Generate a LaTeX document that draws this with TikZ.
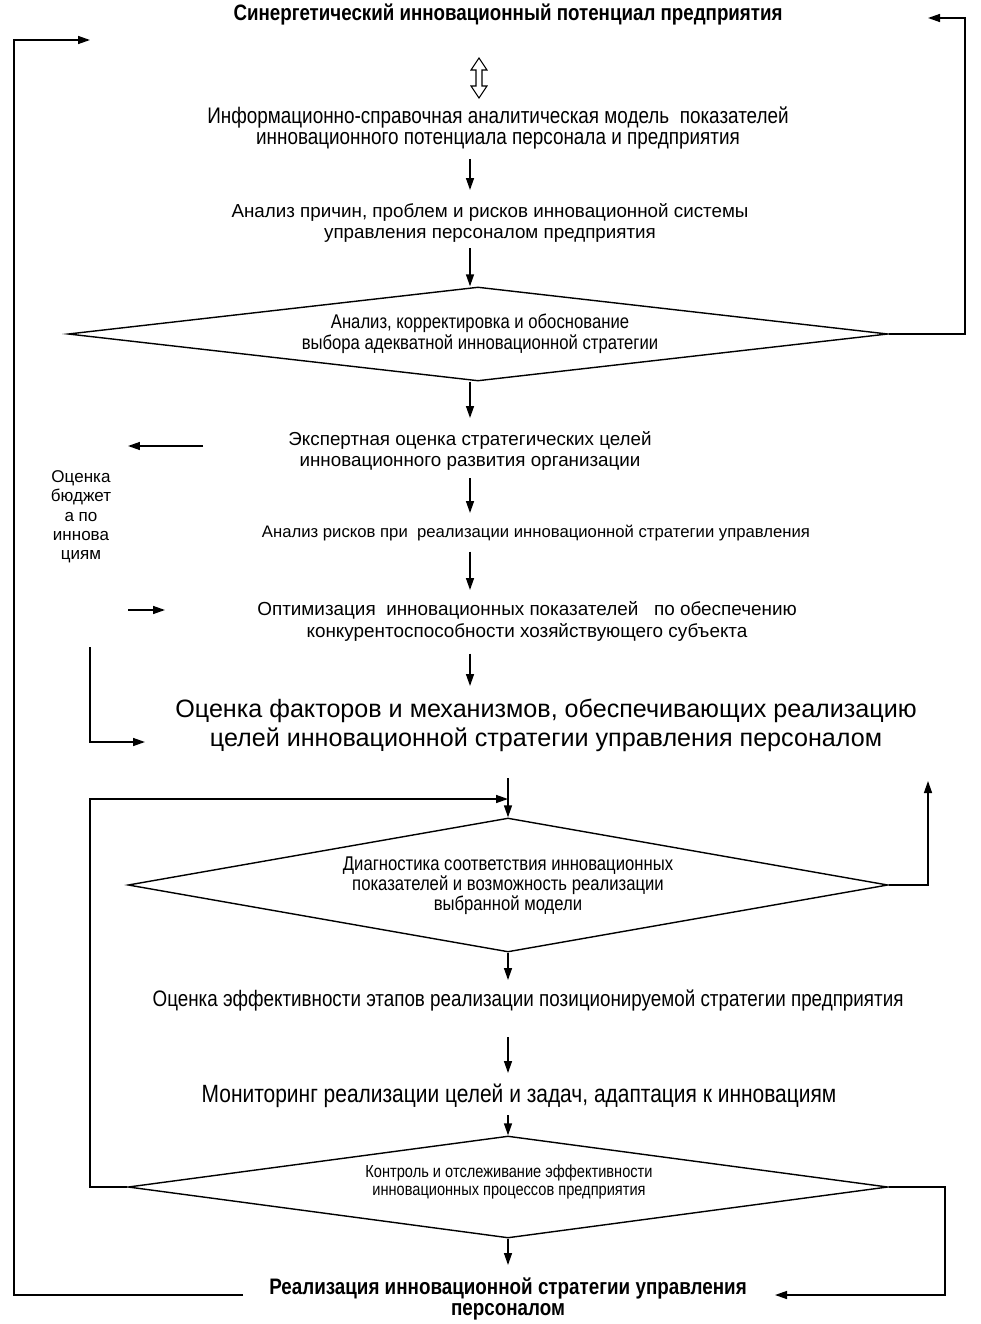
\documentclass[tikz,border=0pt]{standalone}
\usepackage{fontspec}
\setmainfont{Liberation Sans}
\newfontfamily\narrowfont[FakeStretch=0.84]{Liberation Sans}
\usetikzlibrary{arrows.meta,shapes.geometric}

\begin{document}
\begin{tikzpicture}[x=0.02cm,y=-0.02cm,line width=0.8pt,
		arr/.style={-{Triangle[length=2.4mm,width=1.6mm]}},
		txt/.style={align=center,inner sep=0pt},
		romb/.style={draw,diamond,inner sep=0pt,align=center}]
		\useasboundingbox (0,0) rectangle (980,1324);
		\coordinate (ax) at (470,0);
		\coordinate (ay) at (508,0);
		
		\node[txt,font=\narrowfont\bfseries\fontsize{12.7}{12}\selectfont] (potential) at (508,15) {Синергетический инновационный потенциал предприятия};
		\node[txt,font=\narrowfont\fontsize{12.8}{12}\selectfont] (model) at (498,128) {Информационно-справочная аналитическая модель \ показателей\\инновационного потенциала персонала и предприятия};
		\node[txt,font=\fontsize{10.7}{12}\selectfont] (causes) at (490,223) {Анализ причин, проблем и рисков инновационной системы\\управления персоналом предприятия};
		\node[romb,minimum width=16.4cm,minimum height=1.88cm] (choice) at (478,334) {};
		\node[txt,font=\narrowfont\fontsize{11.3}{10.4}\selectfont] (choicetxt) at (480,334) {Анализ, корректировка и обоснование\\выбора адекватной инновационной стратегии};
		\node[txt,font=\fontsize{10.7}{12}\selectfont] (expert) at (470,451) {Экспертная оценка стратегических целей\\инновационного развития организации};
		\node[txt,font=\fontsize{9.5}{11}\selectfont] (risks) at (536,533) {Анализ рисков при \ реализации инновационной стратегии управления};
		\node[txt,font=\fontsize{10.75}{12.5}\selectfont] (optim) at (527,621) {Оптимизация \ инновационных показателей \ \ по обеспечению\\конкурентоспособности хозяйствующего субъекта};
		\node[txt,font=\fontsize{14.3}{16.4}\selectfont] (factors) at (546,725) {Оценка факторов и механизмов, обеспечивающих реализацию\\целей инновационной стратегии управления персоналом};
		\node[txt,font=\fontsize{9.7}{11}\selectfont] (budget) at (81,517) {Оценка\\бюджет\\а по\\иннова\\циям};
		\node[romb,minimum width=15.2cm,minimum height=2.68cm] (diag) at (508,885) {};
		\node[txt,font=\narrowfont\fontsize{11.3}{11.3}\selectfont] (diagtxt) at (508,886) {Диагностика соответствия инновационных\\показателей и возможность реализации\\выбранной модели};
		\node[txt,font=\narrowfont\fontsize{12.75}{12}\selectfont] (stages) at (528,1000) {Оценка эффективности этапов реализации позиционируемой стратегии предприятия};
		\node[txt,font=\narrowfont\fontsize{14.2}{14}\selectfont] (monitor) at (519,1096) {Мониторинг реализации целей и задач, адаптация к инновациям};
		\node[romb,minimum width=15.2cm,minimum height=2.04cm] (control) at (508,1187) {};
		\node[txt,font=\narrowfont\fontsize{9.9}{10.2}\selectfont] (controltxt) at (509,1182) {Контроль и отслеживание эффективности\\инновационных процессов предприятия};
		\node[txt,font=\narrowfont\bfseries\fontsize{12.75}{12}\selectfont] (result) at (508,1299) {Реализация инновационной стратегии управления\\персоналом};
		
		\draw[fill=white,line width=0.6pt] (479,58) -- (487,70) -- (482,70) -- (482,86) -- (487,86) -- (479,98) -- (471,86) -- (476,86) -- (476,70) -- (471,70) -- cycle;
		
		\draw[arr] (model.south -| ax) ++(0,9) -- (470,190);
		\draw[arr] (causes.south -| ax) ++(0,5) -- (choice.north -| ax);
		\draw[arr] (choice.south -| ax) -- (470,418);
		\draw[arr] (expert.south -| ax) ++(0,7) -- (470,513);
		\draw[arr] (risks.south -| ax) ++(0,10) -- (470,590);
		\draw[arr] (optim.south -| ax) ++(0,12) -- (470,686);
		\draw[arr] (508,778) -- (diag.north);
		\draw[arr] (diag.south) -- (508,980);
		\draw[arr] (508,1037) -- (508,1073);
		\draw[arr] (508,1115) -- (control.north);
		\draw[arr] (control.south) -- (508,1265);
		
		\coordinate (bl) at (243,1295);
		\coordinate (tl) at (14,40);
		\coordinate (tlend) at (90,40);
		\draw[arr] (bl) -| (tl) -- (tlend);
		\coordinate (tr) at (965,18);
		\coordinate (trend) at (928,18);
		\draw[arr] (choice.east) -| (tr) -- (trend);
		\coordinate (br) at (945,1295);
		\coordinate (brend) at (775,1295);
		\draw[arr] (control.east) -| (br) -- (brend);
		\coordinate (fb) at (90,799);
		\draw[arr] (control.west) -| (fb) -- (diag.north |- fb);
		\coordinate (up) at (928,781);
		\draw[arr] (diag.east) -| (up);
		
		\coordinate (bud1) at (203,446);
		\coordinate (bud2) at (128,446);
		\draw[arr] (bud1) -- (bud2);
		\coordinate (opt1) at (128,610);
		\coordinate (opt2) at (165,610);
		\draw[arr] (opt1) -- (opt2);
		\coordinate (fac1) at (90,647);
		\coordinate (fac2) at (145,742);
		\draw[arr] (fac1) |- (fac2);
	
	\end{tikzpicture}
\end{document}
